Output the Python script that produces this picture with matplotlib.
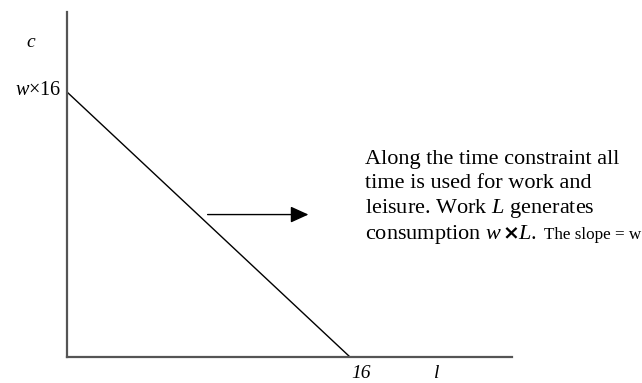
import matplotlib
matplotlib.use("Agg")
import matplotlib.pyplot as plt

plt.rcParams["mathtext.fontset"] = "custom"
plt.rcParams["mathtext.it"] = "Liberation Serif:italic"
plt.rcParams["mathtext.rm"] = "Liberation Serif"

# Time constraint: all 16 hours split between leisure l and work L
hours = 16
wage = 1.0
leisure = [0, hours]
consumption = [wage * hours, 0]

W, H = 642, 383
fig = plt.figure(figsize=(W / 100, H / 100), dpi=100)
ax = fig.add_axes([67 / W, 26 / H, 445 / W, 345 / H])
ax.set_xlim(0, 25.16)
ax.set_ylim(0, 20.83)

for side in ("top", "right"):
    ax.spines[side].set_visible(False)
for side in ("left", "bottom"):
    ax.spines[side].set_color("#555555")
    ax.spines[side].set_linewidth(1.6)
ax.set_xticks([])
ax.set_yticks([])

ax.plot(leisure, consumption, color="black", lw=1.0, solid_capstyle="butt")

serif = "Liberation Serif"
ax.text(-2.05, 19.0, "c", family=serif, style="italic", fontsize=14,
        ha="center", va="center", clip_on=False)
ax.text(-0.3, wage * hours + 0.1, r"$w$×16", family=serif, fontsize=14.5,
        ha="right", va="center", clip_on=False)
ax.text(hours + 0.1, -1.0, "16", family=serif, style="italic", fontsize=14,
        ha="left", va="center", clip_on=False)
ax.text(20.9, -1.0, "l", family=serif, style="italic", fontsize=14,
        ha="center", va="center", clip_on=False)

# Arrow pointing toward the explanation
ax.annotate("", xy=(13.65, 8.6), xytext=(7.95, 8.6),
            arrowprops=dict(arrowstyle="-|>,head_length=1.1,head_width=0.5",
                            color="black", lw=1.0, shrinkA=0, shrinkB=0))

fs = 16
x0 = 365
lines = ["Along the time constraint all",
         "time is used for work and",
         r"leisure. Work $L$ generates"]
baselines = [163.5, 188, 212.5]
for s, yp in zip(lines, baselines):
    fig.text(x0 / W, 1 - yp / H, s, family=serif, fontsize=fs,
             ha="left", va="baseline")

# Last line assembled piece by piece so the bold sign and small note sit inline
last_base = 239.5
pieces = [
    (r"consumption $w$", dict(family=serif, fontsize=fs), 0, 1),
    ("×", dict(family="DejaVu Sans", weight="bold", fontsize=14.5), -1, 0),
    (r"$L$.", dict(family=serif, fontsize=fs), -1, 7),
    ("The slope = w", dict(family=serif, fontsize=12.3), 0, 0),
]
renderer = fig.canvas.get_renderer()
xp = x0
for s, kw, dx, gap in pieces:
    t = fig.text((xp + dx) / W, 1 - last_base / H, s, ha="left",
                 va="baseline", **kw)
    bb = t.get_window_extent(renderer)
    xp = bb.x1 + gap

fig.savefig("out.png", dpi=100, facecolor="white")
